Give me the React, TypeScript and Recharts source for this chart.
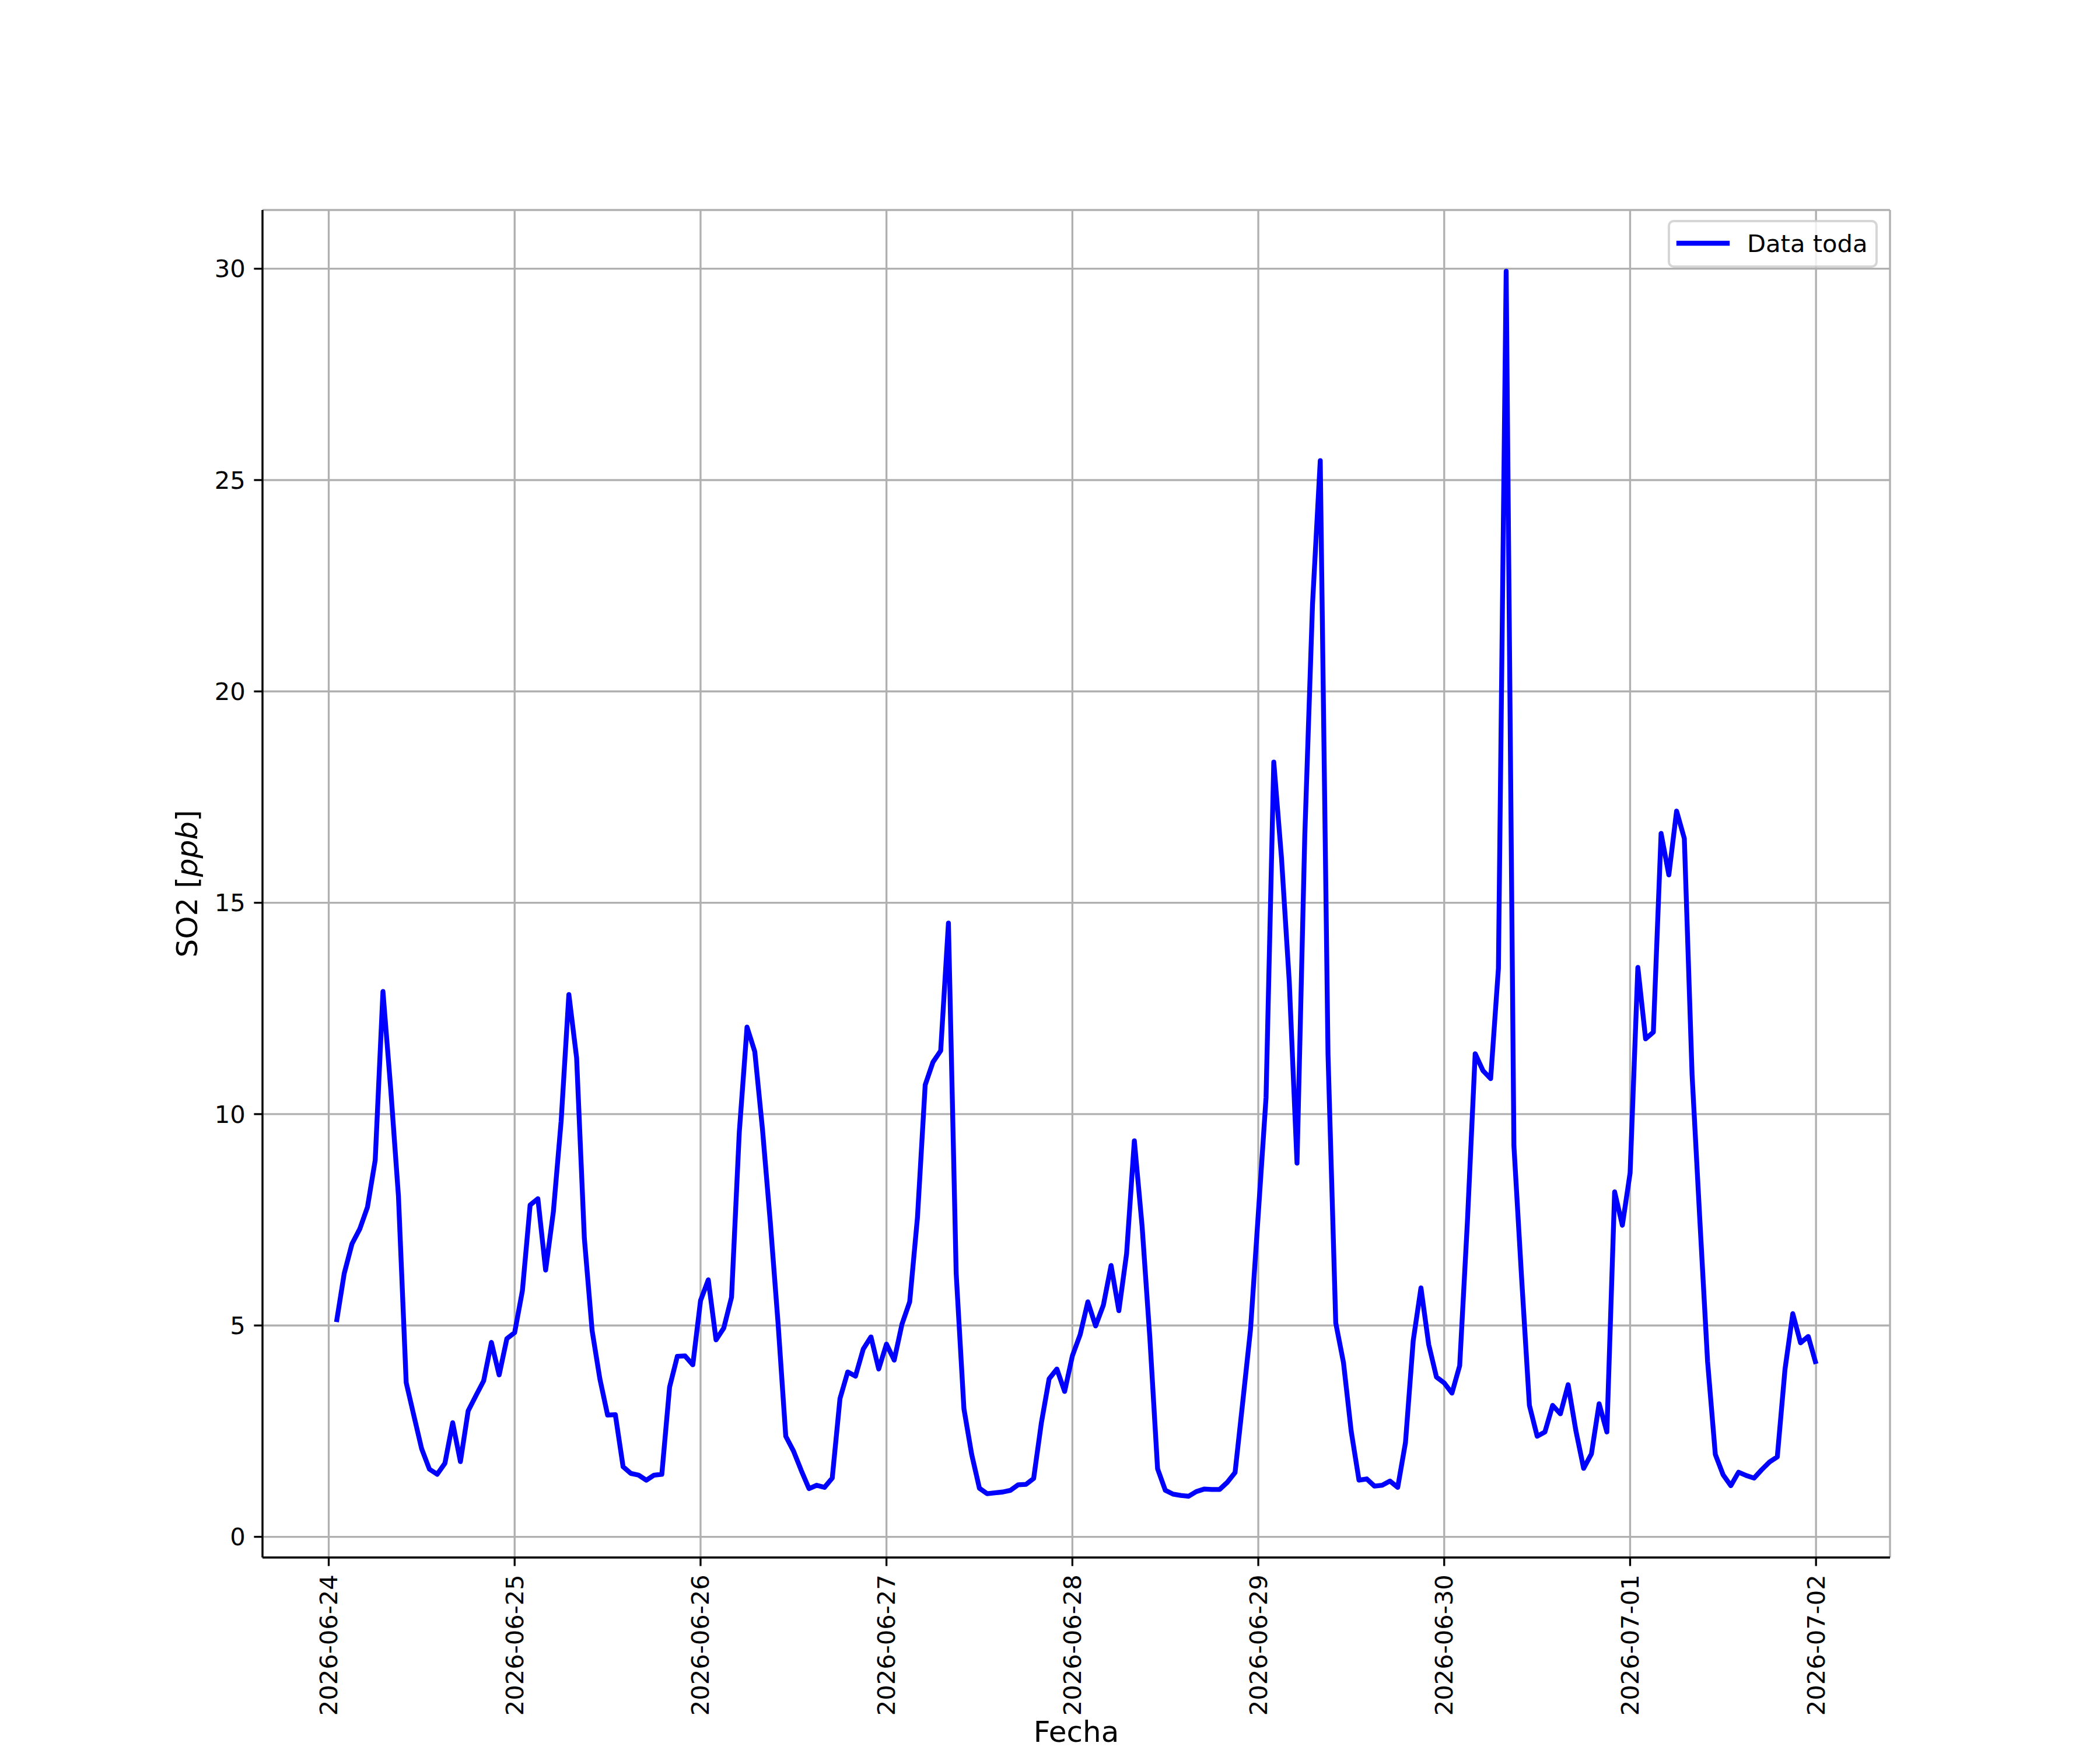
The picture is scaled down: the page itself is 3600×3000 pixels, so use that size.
import { CartesianGrid, Legend, Line, LineChart, XAxis, YAxis } from "recharts";

// hourly SO2 readings, 2026-06-24 01:00 .. 2026-07-02 00:00
const so2 = [
  5.08, 6.23, 6.93, 7.28, 7.8, 8.91, 12.9, 10.6, 8.06, 3.65, 2.86, 2.08,
  1.6, 1.48, 1.74, 2.7, 1.78, 2.98, 3.34, 3.69, 4.6, 3.83, 4.69, 4.83,
  5.82, 7.85, 8.0, 6.31, 7.69, 9.83, 12.83, 11.33, 7.06, 4.88, 3.74, 2.88,
  2.89, 1.66, 1.5, 1.46, 1.34, 1.46, 1.48, 3.54, 4.27, 4.28, 4.07, 5.59,
  6.08, 4.66, 4.94, 5.67, 9.57, 12.06, 11.48, 9.63, 7.45, 5.07, 2.38, 2.03,
  1.57, 1.14, 1.22, 1.17, 1.39, 3.27, 3.9, 3.8, 4.44, 4.73, 3.97, 4.56,
  4.18, 5.03, 5.56, 7.55, 10.69, 11.23, 11.5, 14.52, 6.23, 3.03, 1.95, 1.15,
  1.02, 1.04, 1.06, 1.1, 1.23, 1.24, 1.38, 2.7, 3.74, 3.97, 3.44, 4.28,
  4.78, 5.56, 4.99, 5.48, 6.42, 5.35, 6.7, 9.37, 7.35, 4.71, 1.61, 1.1,
  1.01, 0.98, 0.96, 1.07, 1.13, 1.12, 1.12, 1.29, 1.52, 3.2, 4.91, 7.64,
  10.39, 18.33, 16.05, 13.13, 8.84, 16.57, 22.06, 25.46, 11.42, 5.06, 4.12, 2.49,
  1.34, 1.37, 1.2, 1.22, 1.32, 1.17, 2.23, 4.64, 5.89, 4.55, 3.78, 3.64,
  3.4, 4.05, 7.47, 11.43, 11.03, 10.84, 13.45, 29.94, 9.25, 6.1, 3.11, 2.38,
  2.48, 3.11, 2.91, 3.6, 2.51, 1.62, 1.96, 3.15, 2.48, 8.16, 7.37, 8.61,
  13.47, 11.78, 11.94, 16.64, 15.66, 17.17, 16.52, 10.93, 7.5, 4.15, 1.95, 1.47,
  1.21, 1.53, 1.45, 1.39, 1.59, 1.77, 1.89, 3.97, 5.28, 4.59, 4.74, 4.09,
];

const dayLabels = [
  "2026-06-24", "2026-06-25", "2026-06-26", "2026-06-27", "2026-06-28",
  "2026-06-29", "2026-06-30", "2026-07-01", "2026-07-02",
];
const dayTicks = [0, 24, 48, 72, 96, 120, 144, 168, 192]; // hours after 06-24 00:00
const yTicks = [0, 5, 10, 15, 20, 25, 30];

const data = so2.map((v, i) => ({ hour: i + 1, so2: v }));

// matplotlib-like 5% autoscale margins
const xLo = data[0].hour, xHi = data[data.length - 1].hour;
const xPad = (xHi - xLo) * 0.05;
const yLo = Math.min(...so2), yHi = Math.max(...so2);
const yPad = (yHi - yLo) * 0.05;

const FONT = "DejaVu Sans";
const FS = 41.67;
const LABEL_FS = 50;
const LW = 3.33;

function DateTick({ x, y, payload }: any) {
  const label = dayLabels[dayTicks.indexOf(payload.value)] ?? "";
  return (
    <text
      x={x}
      y={y}
      transform={`rotate(-90, ${x}, ${y})`}
      textAnchor="end"
      dominantBaseline="central"
      fontFamily={FONT}
      fontSize={FS}
      fill="#000"
    >
      {label}
    </text>
  );
}

function LegendBox() {
  return (
    <svg width={362} height={84} style={{ display: "block" }}>
      <rect x={2} y={2} width={356} height={78} rx={8} fill="#fff" fillOpacity={0.8} stroke="#cccccc" strokeOpacity={0.8} strokeWidth={4} />
      <line x1={19} y1={40} x2={102} y2={40} stroke="#0000ff" strokeWidth={8.33} strokeLinecap="square" />
      <text x={136} y={55} fontFamily={FONT} fontSize={FS} fill="#000">Data toda</text>
    </svg>
  );
}

export default function App() {
  return (
    <div style={{ position: "absolute", left: 0, top: 0, width: 3600, height: 3000, background: "#fff" }}>
      <LineChart width={3600} height={3000} data={data} margin={{ top: 360, right: 360, bottom: 0, left: 0 }}>
        <CartesianGrid stroke="#b0b0b0" strokeWidth={LW} />
        <XAxis
          dataKey="hour"
          type="number"
          domain={[xLo - xPad, xHi + xPad]}
          ticks={dayTicks}
          allowDataOverflow
          height={330}
          tick={<DateTick />}
          tickSize={14.6}
          tickMargin={14.6}
          tickLine={{ stroke: "#000", strokeWidth: LW }}
          axisLine={{ stroke: "#000", strokeWidth: LW }}
          interval={0}
        />
        <YAxis
          type="number"
          domain={[yLo - yPad, yHi + yPad]}
          ticks={yTicks}
          allowDataOverflow
          width={450}
          tick={{ fontFamily: FONT, fontSize: FS, fill: "#000" }}
          tickSize={14.6}
          tickMargin={14.6}
          tickLine={{ stroke: "#000", strokeWidth: LW }}
          axisLine={{ stroke: "#000", strokeWidth: LW }}
          interval={0}
        />
        <XAxis xAxisId="top" orientation="top" type="number" domain={[0, 1]} height={0} tick={false} tickLine={false} axisLine={{ stroke: "#000", strokeWidth: LW }} />
        <YAxis yAxisId="right" orientation="right" type="number" domain={[0, 1]} width={0} tick={false} tickLine={false} axisLine={{ stroke: "#000", strokeWidth: LW }} />
        <Legend
          layout="vertical"
          align="center"
          verticalAlign="middle"
          content={() => <LegendBox />}
          wrapperStyle={{ position: "absolute", left: 2859, top: 377, width: 362, height: 84 }}
        />
        <Line
          type="linear"
          dataKey="so2"
          name="Data toda"
          stroke="#0000ff"
          strokeWidth={8.33}
          strokeLinejoin="round"
          dot={false}
          activeDot={false}
          isAnimationActive={false}
        />
      </LineChart>
      <svg width={3600} height={3000} style={{ position: "absolute", left: 0, top: 0, pointerEvents: "none" }}>
        <text x={1845} y={2986} textAnchor="middle" fontFamily={FONT} fontSize={LABEL_FS} fill="#000">Fecha</text>
        <text x={338} y={1515} transform="rotate(-90, 338, 1515)" textAnchor="middle" fontFamily={FONT} fontSize={LABEL_FS} fill="#000">
          SO2 [<tspan fontStyle="italic">ppb</tspan>]
        </text>
      </svg>
    </div>
  );
}
